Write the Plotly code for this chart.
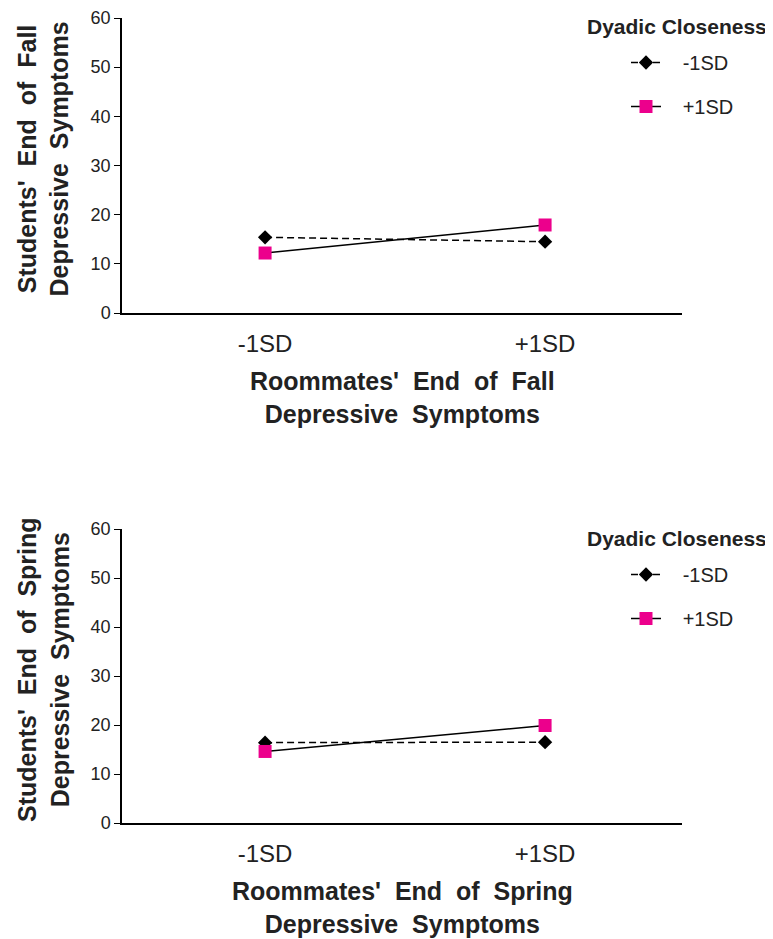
import plotly.graph_objects as go

categories = ["-1SD", "+1SD"]
fall_low = [15.4, 14.5]
fall_high = [12.2, 17.9]
spring_low = [16.4, 16.5]
spring_high = [14.6, 19.9]
series_names = ["-1SD", "+1SD"]
y_ticks = [0, 10, 20, 30, 40, 50, 60]

FONT = "Liberation Sans, Arial, sans-serif"
PINK = "#EC008C"
TXT = "#222222"
PAD = "\u00a0\u00a0\u00a0"

fig = go.Figure()

def add_panel(low, high, xa, ya, legend):
    fig.add_trace(go.Scatter(
        x=categories, y=low, name=PAD + series_names[0], mode="lines+markers",
        line=dict(color="black", width=1.5, dash="7px,4px"),
        marker=dict(symbol="diamond", size=11, color="black"),
        xaxis=xa, yaxis=ya, legend=legend, legendgroup=legend + "a"))
    fig.add_trace(go.Scatter(
        x=categories, y=high, name=PAD + series_names[1], mode="lines+markers",
        line=dict(color="black", width=1.5),
        marker=dict(symbol="square", size=13, color=PINK),
        xaxis=xa, yaxis=ya, legend=legend, legendgroup=legend + "b"))

add_panel(fall_low, fall_high, "x", "y", "legend")
add_panel(spring_low, spring_high, "x2", "y2", "legend2")

W, H = 773, 939
OFF = 8  # page offset of the plot div
def px(x): return (x - OFF) / W
def py(y): return 1 - (y - OFF) / H

def wide(s):
    return s.replace(" ", " \u00a0")

axis_common_x = dict(
    type="category", range=[-0.511, 1.489], showline=True, linecolor="black",
    linewidth=1.5, ticks="", showgrid=False, zeroline=False, automargin=False,
    ticklabelstandoff=8,
    tickfont=dict(family=FONT, size=24, color=TXT))
axis_common_y = dict(
    range=[0, 60], tickvals=y_ticks, showline=True, linecolor="black",
    linewidth=1.5, ticks="outside", ticklen=6, tickcolor="black",
    showgrid=False, zeroline=False, automargin=False,
    tickfont=dict(family=FONT, size=18, color=TXT))

legend_common = dict(
    xanchor="left", yanchor="top",
    font=dict(family=FONT, size=20, color=TXT), tracegroupgap=15,
    bgcolor="rgba(0,0,0,0)")

panels = [
    dict(ytxt="Students' End of Fall", xtxt="Roommates' End of Fall",
         top=18, bottom=313, legtitle_y=27, leg_y=43),
    dict(ytxt="Students' End of Spring", xtxt="Roommates' End of Spring",
         top=529, bottom=823, legtitle_y=538, leg_y=555),
]

fig.update_layout(
    template="none",
    width=W, height=H, margin=dict(l=0, r=0, t=0, b=0, autoexpand=False),
    paper_bgcolor="white", plot_bgcolor="white",
    xaxis=dict(domain=[px(122), px(682)], anchor="y", **axis_common_x),
    yaxis=dict(domain=[py(panels[0]["bottom"]), py(panels[0]["top"])], anchor="x", **axis_common_y),
    xaxis2=dict(domain=[px(122), px(682)], anchor="y2", **axis_common_x),
    yaxis2=dict(domain=[py(panels[1]["bottom"]), py(panels[1]["top"])], anchor="x2", **axis_common_y),
    legend=dict(x=px(626), y=py(panels[0]["leg_y"]), **legend_common),
    legend2=dict(x=px(626), y=py(panels[1]["leg_y"]), **legend_common),
    showlegend=True,
)

ytitle_font = dict(family=FONT, size=25, color=TXT)
xtitle_font = dict(family=FONT, size=25, color=TXT)
leg_title_font = dict(family=FONT, size=21, color=TXT)

for p in panels:
    fig.add_annotation(text="<b>" + wide(p["ytxt"]) + "<br>" + wide("Depressive Symptoms") + "</b>",
                       x=px(43), y=py((p["top"] + p["bottom"]) / 2 - 6), xref="paper", yref="paper",
                       textangle=-90, showarrow=False, font=ytitle_font,
                       xanchor="center", yanchor="middle")
    fig.add_annotation(text="<b>" + wide(p["xtxt"]) + "<br>" + wide("Depressive Symptoms") + "</b>",
                       x=px(402), y=py(p["bottom"] + 84), xref="paper", yref="paper",
                       showarrow=False, font=xtitle_font,
                       xanchor="center", yanchor="middle")
    fig.add_annotation(text="<b>Dyadic Closeness</b>",
                       x=px(585), y=py(p["legtitle_y"]), xref="paper", yref="paper",
                       showarrow=False, font=leg_title_font,
                       xanchor="left", yanchor="middle")

fig.write_html("out.html")
